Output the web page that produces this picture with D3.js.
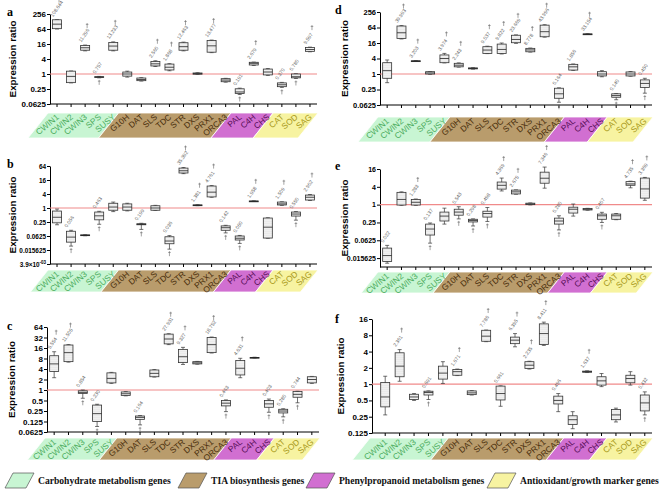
<!DOCTYPE html>
<html><head><meta charset="utf-8">
<script src="https://cdn.jsdelivr.net/npm/d3@7"></script>
<style>body{margin:0;background:#fff}</style>
</head><body>
<svg id="chart" width="660" height="490"></svg>
<script>
const genes = ["CWIN1","CWIN2","CWIN3","SPS","SUSY","G10H","DAT","SLS","TDC","STR","DXS","PRX1","ORCA3","PAL","C4H","CHS","CAT","SOD","SAG"];
const groupNames = ["Carbohydrate metabolism genes","TIA biosynthesis genes","Phenylpropanoid metabolism genes","Antioxidant/growth marker genes"];
const groupOf = [0,0,0,0,0,1,1,1,1,1,1,1,1,2,2,2,3,3,3];

// [min, q1, median, q3, max]
const statsA = [[64,66,100,150,152],[0.44,0.45,0.8,1.3,1.32],[8.5,9,11.3,14,14.5],[0.7,0.72,0.757,0.78,0.8],[8.5,9,13.2,18.4,19.5],[0.75,0.82,1.0,1.2,1.3],[0.52,0.54,0.6,0.69,0.71],[2.0,2.1,2.56,3.2,3.4],[1.35,1.45,1.87,2.5,2.6],[8.5,9,12.5,18,19],[0.96,0.98,1.04,1.1,1.12],[7.2,7.5,13.5,22,23],[0.47,0.49,0.57,0.65,0.67],[0.15,0.165,0.19,0.255,0.27],[2.2,2.3,2.68,2.95,3.0],[0.88,0.92,1.2,1.58,1.65],[0.29,0.31,0.37,0.44,0.46],[0.66,0.7,0.78,1.0,1.02],[7.8,8.1,9.6,11.6,12]];
const labelsA = ["108.644",null,"11.296","0.757","13.233",null,null,"2.560","1.868","12.463",null,"13.477",null,"0.191","2.679",null,"0.370","0.780","9.597"];
const dirA = [1,0,1,-1,1,0,0,1,1,1,0,1,0,-1,1,0,-1,-1,1];

const statsB = [[0.19,0.23,0.4,0.74,0.9],[0.023,0.034,0.056,0.1,0.11],[0.064,0.065,0.067,0.07,0.071],[0.2,0.31,0.46,0.67,0.72],[0.7,0.8,1.1,1.6,1.8],[0.75,0.8,1.1,1.5,1.6],[0.12,0.19,0.199,0.21,0.22],[0.78,0.8,1.0,1.25,1.3],[0.017,0.029,0.038,0.058,0.065],[30,32,40,52,55],[1.26,1.28,1.32,1.36,1.38],[2.9,3.0,4.8,8.8,9.2],[0.085,0.11,0.142,0.17,0.18],[0.03,0.042,0.05,0.0625,0.066],[1.9,1.93,1.96,2.0,2.03],[0.05,0.051,0.15,0.37,0.38],[1.3,1.35,1.5,1.8,1.85],[0.3,0.45,0.55,0.67,0.7],[2.1,2.2,2.9,3.6,3.8]];
const labelsB = [null,"0.056",null,"0.463",null,null,"0.199",null,"0.036","35.392","1.381","4.761","0.142","0.050","1.958",null,"1.509","0.550","2.902"];
const dirB = [0,-1,0,-1,0,0,-1,0,-1,1,1,1,-1,-1,1,0,1,-1,1];

const statsC = [[2.25,3.4,5.6,9.6,12.5],[6.3,6.5,11.8,19.5,20],[0.58,0.8,0.854,0.95,1.0],[0.09,0.125,0.21,0.37,0.39],[1.55,1.6,2.15,3.1,3.2],[0.68,0.7,0.78,0.88,0.9],[0.1,0.144,0.164,0.18,0.185],[2.35,2.4,3.0,3.75,3.85],[20,21,29,40,41],[5.4,6.1,9.0,14.6,16.7],[5.5,5.6,6.0,6.5,6.6],[11.5,11.8,20,32,33],[0.24,0.35,0.42,0.5,0.52],[2.25,2.7,4.2,7,8.1],[8.2,8.3,8.45,8.6,8.7],[0.23,0.32,0.4,0.5,0.55],[0.17,0.22,0.25,0.28,0.29],[0.43,0.62,0.75,0.9,0.92],[1.55,1.6,2.0,2.4,2.45]];
const labelsC = ["5.554","11.505","0.854","0.230",null,null,"0.164",null,"27.931","9.327",null,"18.752","0.463","4.631",null,"0.403","0.280","0.744",null];
const dirC = [1,1,-1,-1,0,0,-1,0,1,1,0,1,-1,1,0,-1,-1,-1,0];

const statsD = [[0.46,0.68,1.35,2.75,3.5],[23,24,40,73,76],[3.1,3.15,3.2,3.25,3.3],[0.98,1.0,1.1,1.23,1.25],[2.7,2.75,4.0,5.5,6.3],[1.85,1.9,2.2,2.6,2.7],[1.55,1.58,1.66,1.72,1.75],[6.2,6.3,8.5,11.5,12],[6,6.3,9.0,14.5,16],[15.5,16.4,22,32,33],[7.1,7.3,8.6,9.9,10.2],[27,28,44,79,82],[0.08,0.114,0.17,0.28,0.29],[1.38,1.42,1.9,2.37,2.45],[34.5,35,35.5,36,36.5],[0.78,0.84,1.0,1.23,1.35],[0.1,0.125,0.145,0.17,0.175],[0.82,0.84,1.0,1.2,1.25],[0.18,0.30,0.43,0.59,0.68]];
const labelsD = [null,"39.993","3.203",null,"3.974","2.243",null,"9.037","9.822","23.669","8.778","43.996","0.164","1.856","33.154",null,"0.140",null,"0.450"];
const dirD = [0,1,1,0,1,1,0,1,1,1,1,1,-1,0,1,0,-1,0,-1];

const statsE = [[0.0105,0.012,0.019,0.034,0.042],[0.95,0.97,1.5,2.6,2.7],[0.95,0.97,1.2,1.5,1.55],[0.05,0.094,0.15,0.22,0.24],[0.22,0.28,0.41,0.56,0.76],[0.33,0.44,0.56,0.7,0.85],[0.19,0.26,0.29,0.32,0.33],[0.27,0.38,0.5,0.6,0.8],[2.9,3.35,4.5,5.8,7.9],[2.25,2.3,2.7,3.1,3.15],[0.98,1.0,1.05,1.12,1.14],[3.6,5.3,7.8,12.5,18.6],[0.14,0.22,0.28,0.35,0.42],[0.41,0.52,0.7,0.82,1.05],[0.65,0.66,0.7,0.74,0.75],[0.25,0.32,0.42,0.48,0.55],[0.31,0.32,0.42,0.48,0.5],[3.7,4.5,5.0,6.0,6.2],[1.4,1.66,3.4,7.9,8.3]];
const labelsE = ["0.022",null,"1.283","0.137",null,"0.543","0.298","0.498","4.369","2.675",null,"7.346","0.280",null,null,"0.407",null,"4.735","3.369"];
const dirE = [0,0,1,-1,0,-1,-1,-1,1,1,0,1,-1,0,0,-1,0,1,1];

const statsF = [[0.27,0.38,0.58,1.07,1.4],[1.13,1.37,2.15,3.8,4.35],[0.5,0.52,0.58,0.65,0.67],[0.52,0.63,0.7,0.74,0.75],[1.03,1.24,1.6,2.15,2.6],[1.44,1.46,1.7,1.86,1.9],[0.63,0.64,0.69,0.75,0.76],[6.1,6.2,7.7,9.9,10],[0.39,0.51,0.67,0.92,0.93],[4.9,5.6,6.5,7.4,8.6],[1.9,1.95,2.24,2.6,2.65],[5.2,5.4,8.6,13,14],[0.31,0.43,0.5,0.6,0.67],[0.15,0.18,0.22,0.26,0.31],[1.64,1.66,1.7,1.74,1.76],[0.9,0.96,1.15,1.37,1.57],[0.2,0.22,0.27,0.34,0.36],[0.96,1.06,1.27,1.46,1.7],[0.27,0.32,0.45,0.63,0.72]];
const labelsF = [null,"2.361",null,"0.691",null,"1.671",null,"7.786","0.661","6.395","2.235","8.411","0.496",null,"1.637",null,null,null,"0.432"];
const dirF = [0,1,0,-1,0,1,0,1,0,1,1,1,0,0,1,0,0,0,-1];

const ticksA = [0.0625,0.25,1,4,16,64,256];
const tickTextA = ["0.0625","0.25","1","4","16","64","256"];
const ticksB = [0.00390625,0.015625,0.0625,0.25,1,4,16,64];
const tickTextB = ["3.9×10^-03","0.015625","0.0625","0.25","1","4","16","64"];
const ticksC = [0.0625,0.125,0.25,0.5,1,2,4,8,16,32,64];
const tickTextC = ["0.0625","0.125","0.25","0.5","1","2","4","8","16","32","64"];
const ticksD = [0.0625,0.25,1,4,16,64,256];
const tickTextD = ["0.0625","0.25","1","4","16","64","256"];
const ticksE = [0.015625,0.0625,0.25,1,4,16];
const tickTextE = ["0.015625","0.0625","0.25","1","4","16"];
const ticksF = [0.125,0.25,0.5,1,2,4,8,16];
const tickTextF = ["0.125","0.25","0.5","1","2","4","8","16"];

const groupFill = ["#c8f5d3","#b99c6c","#d16fd1","#f7f3a1"];
const groupText = ["#4fae62","#4a2f0c","#5a0f5a","#a8991a"];

const svg = d3.select("#chart");
const defs = svg.append("defs");
const pat = defs.append("pattern").attr("id","dots").attr("width",2).attr("height",2).attr("patternUnits","userSpaceOnUse");
pat.append("rect").attr("width",2).attr("height",2).attr("fill","#fff");
pat.append("circle").attr("cx",1).attr("cy",1).attr("r",0.5).attr("fill","#a0a0a0");

const panels = [
 {L:"a",stats:statsA,labels:labelsA,dirs:dirA,ticks:ticksA,tt:tickTextA,x0:50,x1:317,axisX:50,yb:104,yt:14,dom:[2**-4,2**8],band:[113,138],lp:[7,16],tx:16,tf:8},
 {L:"b",stats:statsB,labels:labelsB,dirs:dirB,ticks:ticksB,tt:tickTextB,x0:50,x1:317,axisX:50,yb:264,yt:166,dom:[2**-8,2**6],band:[270,292],lp:[7,168],tx:16,tf:6.4},
 {L:"c",stats:statsC,labels:labelsC,dirs:dirC,ticks:ticksC,tt:tickTextC,x0:47,x1:319,axisX:47,yb:432,yt:327,dom:[2**-4,2**6],band:[438,460],lp:[7,330],tx:15,tf:8},
 {L:"d",stats:statsD,labels:labelsD,dirs:dirD,ticks:ticksD,tt:tickTextD,x0:380,x1:652,axisX:380,yb:105,yt:12,dom:[2**-4,2**8],band:[117,142],lp:[335,14],tx:348,tf:7.5},
 {L:"e",stats:statsE,labels:labelsE,dirs:dirE,ticks:ticksE,tt:tickTextE,x0:380,x1:652,axisX:380,yb:267,yt:169,dom:[2**-7,2**4],band:[272,293],lp:[335,170],tx:348,tf:7},
 {L:"f",stats:statsF,labels:labelsF,dirs:dirF,ticks:ticksF,tt:tickTextF,x0:378,x1:652,axisX:372,yb:433,yt:319,dom:[2**-3,2**4],band:[438,460],lp:[335,323],tx:344,tf:8}
];

function dagger(g, cxp, ytop){
  g.append("line").attr("x1",cxp).attr("x2",cxp).attr("y1",ytop).attr("y2",ytop+5).attr("stroke","#666").attr("stroke-width",0.6);
  g.append("line").attr("x1",cxp-1.3).attr("x2",cxp+1.3).attr("y1",ytop+1.3).attr("y2",ytop+1.3).attr("stroke","#666").attr("stroke-width",0.6);
}

panels.forEach(p => {
  const g = svg.append("g");
  const x = d3.scaleBand().domain(genes).range([p.x0,p.x1]);
  const y = d3.scaleLog().base(2).domain(p.dom).range([p.yb,p.yt]);
  const cx = i => x(genes[i]) + x.bandwidth()/2;
  const step = x.step();

  const [b0,b1] = p.band;
  const s = (b1-b0)*0.8;
  for (let k=0;k<4;k++){
    const idx = genes.map((d,i)=>i).filter(i=>groupOf[i]===k);
    const i0 = idx[0], i1 = idx[idx.length-1];
    const xl = k===0 ? p.axisX-2 : cx(i0) - 0.62*step;
    const xr = k===3 ? p.x1+1 : cx(i1) + 0.38*step;
    g.append("polygon")
     .attr("points",[[xl,b0],[xr,b0],[xr-s,b1],[xl-s,b1]].map(q=>q.join(",")).join(" "))
     .attr("fill",groupFill[k]).attr("stroke","#fff").attr("stroke-width",0.8);
  }
  genes.forEach((gn,i)=>{
    g.append("text").attr("transform",`translate(${cx(i)+2.5},${b0+5}) rotate(-40)`)
     .attr("text-anchor","end").attr("font-family","Liberation Sans, Arial, sans-serif")
     .attr("font-size",8.4).attr("fill",groupText[groupOf[i]]).text(gn);
  });

  const ya = g.append("g").attr("transform",`translate(${p.axisX},0)`)
    .call(d3.axisLeft(y).tickValues(p.ticks).tickFormat((d,i)=>p.tt[i].includes("^")?"":p.tt[i]).tickSize(3).tickSizeOuter(0));
  ya.select(".domain").attr("stroke","#000").attr("stroke-width",1);
  ya.selectAll(".tick line").attr("stroke","#000").attr("stroke-width",1);
  ya.selectAll(".tick text").attr("font-family","Liberation Sans, Arial, sans-serif").attr("font-weight","bold").attr("font-size",p.tf).attr("fill","#000").attr("x",-4);
  p.tt.forEach((t,i)=>{
    if(t.includes("^")){
      const [base,exp] = t.split("^");
      const tx = g.append("text").attr("x",p.axisX-4).attr("y",y(p.ticks[i])+2.5).attr("text-anchor","end")
        .attr("font-family","Liberation Sans, Arial, sans-serif").attr("font-weight","bold").attr("font-size",p.tf);
      tx.append("tspan").text(base);
      tx.append("tspan").attr("font-size",p.tf*0.7).attr("dy",-3).text(exp);
    }
  });
  g.append("line").attr("x1",p.axisX).attr("x2",p.x1).attr("y1",p.yb).attr("y2",p.yb).attr("stroke","#000").attr("stroke-width",1);
  const xa = g.append("g").attr("transform",`translate(0,${p.yb})`)
    .call(d3.axisBottom(x).tickSize(3).tickSizeOuter(0).tickFormat(""));
  xa.select(".domain").remove();
  xa.selectAll(".tick line").attr("stroke","#000");

  g.append("line").attr("x1",p.axisX).attr("x2",p.x1).attr("y1",y(1)).attr("y2",y(1))
   .attr("stroke","#f08a8a").attr("stroke-width",1.2);

  const bw = 9;
  p.stats.forEach((st,i)=>{
    const c = cx(i);
    const [mn,q1,md,q3,mx] = st;
    g.append("line").attr("x1",c).attr("x2",c).attr("y1",y(mn)).attr("y2",y(mx)).attr("stroke","#333").attr("stroke-width",0.7);
    [mn,mx].forEach(v=>g.append("line").attr("x1",c-2).attr("x2",c+2).attr("y1",y(v)).attr("y2",y(v)).attr("stroke","#333").attr("stroke-width",0.7));
    g.append("rect").attr("x",c-bw/2).attr("width",bw).attr("y",y(q3)).attr("height",Math.max(0.8,y(q1)-y(q3)))
     .attr("fill","url(#dots)").attr("stroke","#333").attr("stroke-width",0.8);
    g.append("line").attr("x1",c-bw/2).attr("x2",c+bw/2).attr("y1",y(md)).attr("y2",y(md)).attr("stroke","#222").attr("stroke-width",0.8);
    const lab = p.labels[i];
    if(lab){
      const top = y(mx);
      g.append("text").attr("transform",`translate(${c-4},${top-2.5}) rotate(-55)`)
       .attr("font-family","Liberation Sans, Arial, sans-serif").attr("font-size",5).attr("fill","#666").text(lab);
      if(p.dirs[i]===1) dagger(g, c+2, top-22);
    }
    if(p.dirs[i]===-1) dagger(g, c, y(mn)+2);
  });

  g.append("text").attr("x",p.lp[0]).attr("y",p.lp[1]).attr("font-family","Liberation Serif, serif")
   .attr("font-weight","bold").attr("font-size",12).text(p.L);
  g.append("text").attr("transform",`translate(${p.tx},${(p.yt+p.yb)/2}) rotate(-90)`).attr("text-anchor","middle")
   .attr("font-family","Liberation Sans, Arial, sans-serif").attr("font-weight","bold").attr("font-size",9.8).text("Expression ratio");
});

const legX = [5,178,306,487];
const ly = 473, lh = 15;
groupNames.forEach((nm,k)=>{
  const x0 = legX[k];
  svg.append("polygon").attr("points",[[x0+8,ly],[x0+29,ly],[x0+21,ly+lh],[x0,ly+lh]].map(q=>q.join(",")).join(" "))
   .attr("fill",groupFill[k]).attr("stroke","#555").attr("stroke-width",0.7);
  svg.append("text").attr("x",x0+33).attr("y",ly+11).attr("font-family","Liberation Serif, 'Times New Roman', serif")
   .attr("font-weight","bold").attr("font-size",9.6).attr("fill","#111").text(nm);
});
</script>
</body></html>
